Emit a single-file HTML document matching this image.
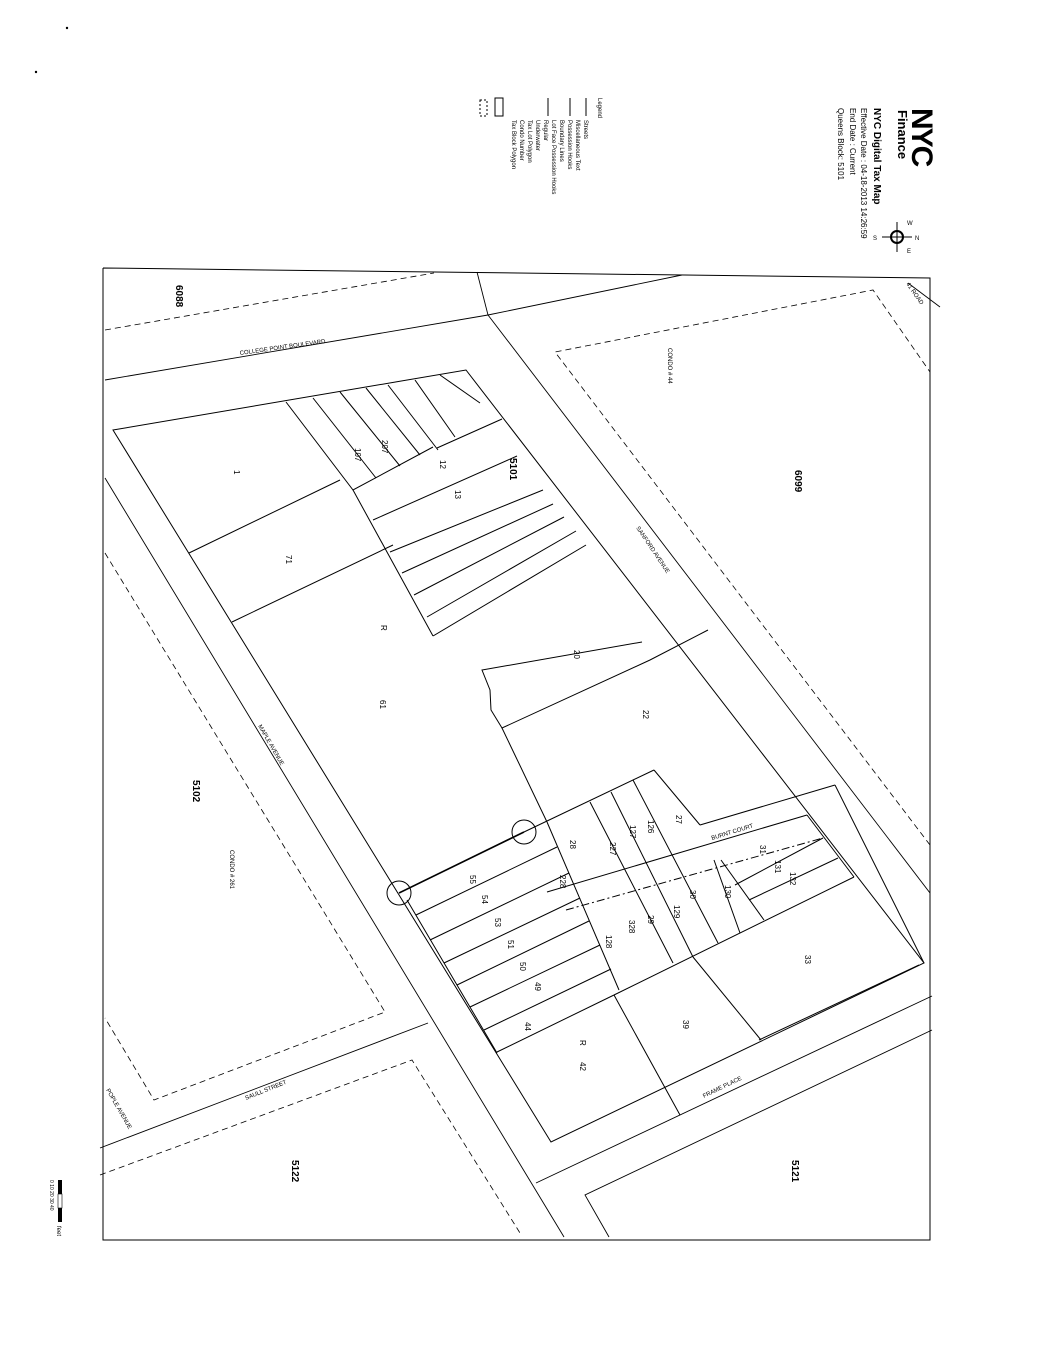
<!DOCTYPE html>
<html><head><meta charset="utf-8"><style>
html,body{margin:0;padding:0;background:#fff}
svg{display:block}
text{font-family:"Liberation Sans",sans-serif;fill:#000}
</style></head><body>
<svg width="1043" height="1350" viewBox="0 0 1043 1350" xmlns="http://www.w3.org/2000/svg">
<circle cx="67" cy="28" r="1.2" fill="#000"/>
<circle cx="36" cy="72" r="1.2" fill="#000"/>

<!-- header (rotated) -->
<g transform="translate(912,108) rotate(90)">
  <text x="0" y="0" font-size="30" font-weight="bold" letter-spacing="-2">NYC</text>
  <text x="2" y="14" font-size="13" font-weight="bold">Finance</text>
  <text x="0" y="38" font-size="10" font-weight="bold">NYC Digital Tax Map</text>
  <text x="0" y="51" font-size="8">Effective Date    : 04-18-2013 14:26:59</text>
  <text x="0" y="62" font-size="8">End Date          : Current</text>
  <text x="0" y="74" font-size="8">Queens Block: 5101</text>
</g>
<g transform="translate(897,237)">
  <line x1="-15" y1="0" x2="15" y2="0" stroke="#000"/><line x1="0" y1="-15" x2="0" y2="15" stroke="#000"/>
  <circle r="6" fill="none" stroke="#000" stroke-width="2"/>
  <text x="10" y="-12" font-size="6">W</text><text x="10" y="16" font-size="6">E</text>
  <text x="-24" y="3" font-size="6">S</text><text x="18" y="3" font-size="6">N</text>
</g>
<!-- legend -->
<g transform="translate(598,98) rotate(90)">
  <text x="0" y="0" font-size="6">Legend</text>
  <text x="22" y="14" font-size="6">Streets</text>
  <text x="22" y="22" font-size="6">Miscellaneous Text</text>
  <text x="22" y="30" font-size="6">Possession Hooks</text>
  <text x="22" y="38" font-size="6">Boundary Lines</text>
  <text x="22" y="46" font-size="6">Lot Face Possession Hooks</text>
  <text x="22" y="54" font-size="6">Regular</text>
  <text x="22" y="62" font-size="6">Underwater</text>
  <text x="22" y="70" font-size="6">Tax Lot Polygon</text>
  <text x="22" y="78" font-size="6">Condo Number</text>
  <text x="22" y="86" font-size="6">Tax Block Polygon</text>
</g>
<g stroke="#000" fill="none">
  <line x1="586" y1="98" x2="586" y2="116"/>
  <line x1="570" y1="98" x2="570" y2="116"/>
  <line x1="548" y1="98" x2="548" y2="116"/>
  <rect x="495" y="98" width="8" height="18"/>
  <rect x="480" y="100" width="7" height="16" stroke-dasharray="2,2"/>
</g>

<!-- frame -->
<g stroke="#000" fill="none" stroke-width="1">
  <polyline points="103,268 930,278 930,1240 103,1240 103,268"/>
</g>

<!-- streets -->
<g stroke="#000" fill="none" stroke-width="0.9">
  <polyline points="105,380 488,315 682,275"/>
  <line x1="477" y1="272" x2="488" y2="315"/>
  <line x1="488" y1="315" x2="930" y2="893"/>
  <line x1="105" y1="478" x2="564" y2="1237"/>
  <line x1="100" y1="1148" x2="428" y2="1023"/>
  <line x1="536" y1="1183" x2="932" y2="996"/>
  <polyline points="609,1237 585,1195 932,1030"/>
  <line x1="908" y1="283" x2="940" y2="307"/>
</g>
<g stroke="#000" fill="none" stroke-width="0.8" stroke-dasharray="6,4">
  <line x1="105" y1="330" x2="434" y2="273"/>
  <polyline points="930,845 555,352 873,290 930,372"/>
  <polyline points="105,553 385,1012 154,1100 105,1018"/>
  <polyline points="100,1175 412,1060 520,1233"/>
</g>

<!-- main block -->
<g stroke="#000" fill="none" stroke-width="1">
  <polygon points="113,430 466,370 924,963 551,1142"/>
  <!-- upper lots -->
  <line x1="189" y1="553" x2="340" y2="480"/>
  <line x1="232" y1="622" x2="393" y2="545"/>
  <polyline points="286,402 353,490 433,447"/>
  <line x1="313" y1="398" x2="376" y2="478"/>
  <line x1="340" y1="392" x2="400" y2="466"/>
  <line x1="366" y1="388" x2="420" y2="455"/>
  <line x1="388" y1="385" x2="438" y2="450"/>
  <line x1="415" y1="380" x2="455" y2="437"/>
  <line x1="440" y1="375" x2="480" y2="403"/>
  <line x1="437" y1="448" x2="502" y2="419"/>
  <line x1="353" y1="490" x2="433" y2="636"/>
  <line x1="373" y1="520" x2="517" y2="456"/>
  <line x1="390" y1="552" x2="543" y2="490"/>
  <line x1="402" y1="573" x2="553" y2="504"/>
  <line x1="414" y1="595" x2="564" y2="517"/>
  <line x1="427" y1="617" x2="576" y2="531"/>
  <line x1="433" y1="636" x2="586" y2="545"/>
  <!-- lot 20/22 -->
  <polyline points="642,642 482,670 490,690 491,710 502,728 650,660 708,630"/>
  <line x1="502" y1="728" x2="547" y2="822"/>

  <!-- lower cluster -->
  <line x1="399" y1="893" x2="524" y2="832" stroke-width="1.6"/>
  <line x1="524" y1="832" x2="654" y2="770"/>
  <line x1="654" y1="770" x2="700" y2="825"/>
  <line x1="700" y1="825" x2="835" y2="785"/>
  <line x1="835" y1="785" x2="924" y2="963"/>
  <line x1="547" y1="892" x2="807" y2="815"/>
  <line x1="566" y1="910" x2="823" y2="838" stroke-dasharray="8,3,2,3"/>
  <line x1="407" y1="900" x2="497" y2="1053"/>
  <line x1="416" y1="915" x2="557" y2="847"/>
  <line x1="430" y1="940" x2="569" y2="873"/>
  <line x1="444" y1="963" x2="580" y2="898"/>
  <line x1="457" y1="985" x2="589" y2="921"/>
  <line x1="470" y1="1007" x2="600" y2="945"/>
  <line x1="484" y1="1030" x2="611" y2="969"/>
  <line x1="497" y1="1052" x2="614" y2="995"/>
  <line x1="614" y1="995" x2="854" y2="877"/>
  <line x1="547" y1="822" x2="619" y2="990"/>
  <line x1="590" y1="802" x2="673" y2="963"/>
  <line x1="611" y1="792" x2="693" y2="957"/>
  <line x1="633" y1="780" x2="718" y2="943"/>
  <line x1="721" y1="860" x2="764" y2="920"/>
  <line x1="714" y1="860" x2="740" y2="933"/>
  <line x1="807" y1="815" x2="854" y2="877"/>
  <line x1="735" y1="885" x2="823" y2="838"/>
  <line x1="749" y1="900" x2="838" y2="858"/>
  <line x1="693" y1="957" x2="761" y2="1040"/>
  <line x1="759" y1="1040" x2="919" y2="965"/>
  <line x1="614" y1="995" x2="680" y2="1115"/>
  <circle cx="399" cy="893" r="12"/>
  <circle cx="524" cy="832" r="12"/>
</g>

<!-- labels -->
<g font-size="8">
  <text transform="translate(176,285) rotate(90)" font-weight="bold" font-size="10">6088</text>
  <text transform="translate(510,458) rotate(90)" font-weight="bold" font-size="10">5101</text>
  <text transform="translate(795,470) rotate(90)" font-weight="bold" font-size="10">6099</text>
  <text transform="translate(193,780) rotate(90)" font-weight="bold" font-size="10">5102</text>
  <text transform="translate(292,1160) rotate(90)" font-weight="bold" font-size="10">5122</text>
  <text transform="translate(792,1160) rotate(90)" font-weight="bold" font-size="10">5121</text>
  <text transform="translate(668,348) rotate(90)" font-size="6">CONDO # 44</text>
  <text transform="translate(230,850) rotate(90)" font-size="6">CONDO # 261</text>
  <text transform="translate(240,355) rotate(-8)" font-size="6">COLLEGE POINT BOULEVARD</text>
  <text transform="translate(636,528) rotate(56)" font-size="6">SANFORD AVENUE</text>
  <text transform="translate(258,726) rotate(60)" font-size="6">MAPLE AVENUE</text>
  <text transform="translate(246,1100) rotate(-22)" font-size="6">SAULL STREET</text>
  <text transform="translate(106,1090) rotate(60)" font-size="6">POPLE AVENUE</text>
  <text transform="translate(704,1098) rotate(-26)" font-size="6">FRAME PLACE</text>
  <text transform="translate(712,840) rotate(-17)" font-size="6">BURNT COURT</text>
  <text transform="translate(906,284) rotate(55)" font-size="6">41 ROAD</text>
  <text transform="translate(234,470) rotate(90)">1</text>
  <text transform="translate(286,555) rotate(90)">71</text>
  <text transform="translate(381,625) rotate(90)">R</text>
  <text transform="translate(380,700) rotate(90)">61</text>
  <text transform="translate(574,650) rotate(90)">20</text>
  <text transform="translate(643,710) rotate(90)">22</text>
  <text transform="translate(455,490) rotate(90)">13</text>
  <text transform="translate(440,460) rotate(90)">12</text>
  <text transform="translate(355,448) rotate(90)">107</text>
  <text transform="translate(382,440) rotate(90)">207</text>
  <text transform="translate(580,1040) rotate(90)">R</text>
  <text transform="translate(580,1062) rotate(90)">42</text>
  <text transform="translate(683,1020) rotate(90)">39</text>
  <text transform="translate(805,955) rotate(90)">33</text>
  <text transform="translate(570,840) rotate(90)">28</text>
  <text transform="translate(610,842) rotate(90)">227</text>
  <text transform="translate(630,825) rotate(90)">127</text>
  <text transform="translate(648,820) rotate(90)">126</text>
  <text transform="translate(676,815) rotate(90)">27</text>
  <text transform="translate(606,935) rotate(90)">128</text>
  <text transform="translate(629,920) rotate(90)">328</text>
  <text transform="translate(648,915) rotate(90)">29</text>
  <text transform="translate(674,905) rotate(90)">129</text>
  <text transform="translate(690,890) rotate(90)">30</text>
  <text transform="translate(725,885) rotate(90)">130</text>
  <text transform="translate(760,845) rotate(90)">31</text>
  <text transform="translate(775,860) rotate(90)">131</text>
  <text transform="translate(790,872) rotate(90)">132</text>
  <text transform="translate(470,875) rotate(90)">55</text>
  <text transform="translate(482,895) rotate(90)">54</text>
  <text transform="translate(495,918) rotate(90)">53</text>
  <text transform="translate(508,940) rotate(90)">51</text>
  <text transform="translate(520,962) rotate(90)">50</text>
  <text transform="translate(535,982) rotate(90)">49</text>
  <text transform="translate(525,1022) rotate(90)">44</text>
  <text transform="translate(560,875) rotate(90)">228</text>
</g>

<!-- scale bar -->
<g transform="translate(62,1180) rotate(90)">
  <rect x="0" y="0" width="14" height="4" fill="#000"/>
  <rect x="14" y="0" width="14" height="4" fill="none" stroke="#000" stroke-width="0.6"/>
  <rect x="28" y="0" width="14" height="4" fill="#000"/>
  <text x="46" y="5" font-size="6">feet</text>
  <text x="0" y="12" font-size="5">0 10 20 30 40</text>
</g>
</svg>
</body></html>
